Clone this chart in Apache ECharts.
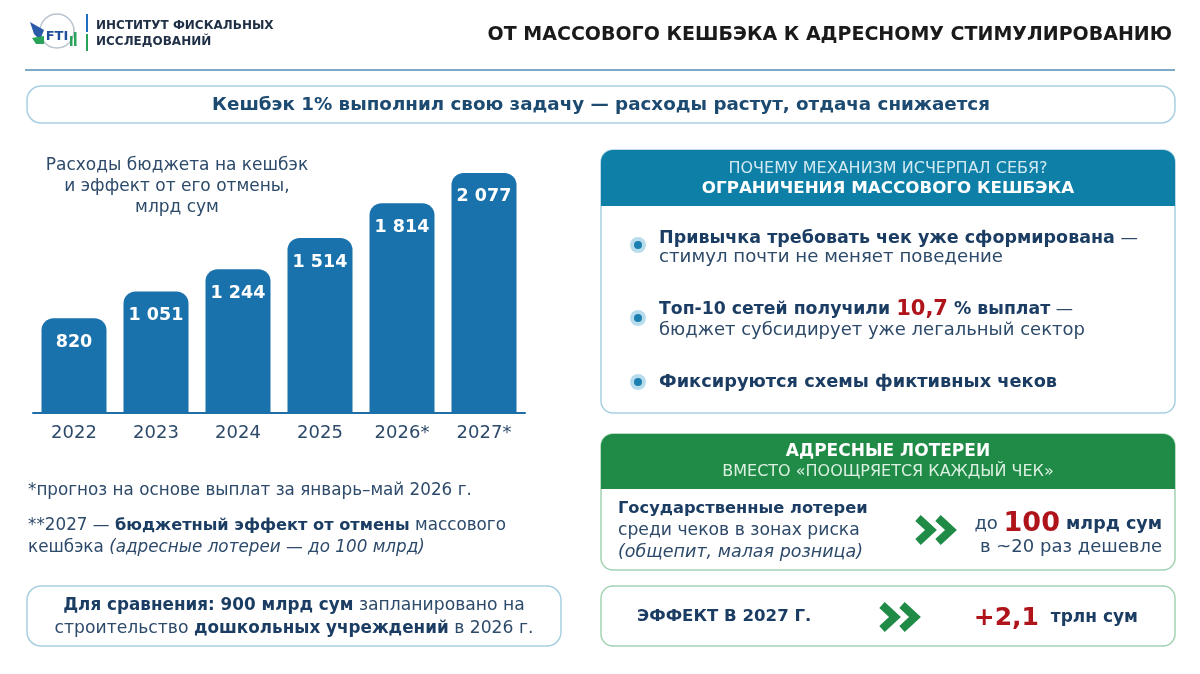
<!DOCTYPE html>
<html><head><meta charset="utf-8">
<script src="https://cdn.jsdelivr.net/npm/echarts@6/dist/echarts.min.js"></script>
<style>html,body{margin:0;padding:0;background:#fff;}#c{width:1200px;height:674px;}</style>
</head><body><div id="c"></div>
<script>
const categories = ['2022','2023','2024','2025','2026*','2027*'];
const spending = [820, 1051, 1244, 1514, 1814, 2077];
const chartTitle = 'Расходы бюджета на кешбэк\nи эффект от его отмены,\nмлрд сум';

const FF = '"DejaVu Sans", "Noto Sans", sans-serif';
const NAVY = '#1c3d63';
const TXT = '#2d4a6a';
const BLUE = '#1a72ad';
const TEAL = '#0e80a8';
const GREEN = '#1f8b46';
const RED = '#b0141b';

function fmt(v){ return String(v).replace(/\B(?=(\d{3})+(?!\d))/g, ' '); }

function T(x, y, text, o){
  o = o || {};
  return { type:'text', z:10, style:Object.assign({
    x:x, y:y, text:text, fontFamily:FF, fontSize:o.fs||16, fontWeight:o.fw||'normal',
    fill:o.fill||NAVY, align:o.align||'left', verticalAlign:'middle'
  }, o.rich ? {rich:o.rich} : {}, o.extra||{}) };
}
function R(x, y, w, h, r, o){
  return { type:'rect', z:o.z||1, shape:{x:x,y:y,width:w,height:h,r:r},
    style:{fill:o.fill||'#fff', stroke:o.stroke||null, lineWidth:o.lw||1.5} };
}
function chev(cx, cy, color){
  const mk = (dx)=>({ type:'polyline', z:10,
    shape:{points:[[cx+dx-8,cy-12],[cx+dx+5,cy],[cx+dx-8,cy+12]]},
    style:{stroke:color, lineWidth:8, fill:null, lineJoin:'miter', lineCap:'butt'} });
  return [mk(-10), mk(10)];
}
function bullet(cx, cy){
  return [
    {type:'circle', z:10, shape:{cx:cx,cy:cy,r:8}, style:{fill:'#b9dcec'}},
    {type:'circle', z:11, shape:{cx:cx,cy:cy,r:4}, style:{fill:'#1b7fb0'}}
  ];
}

const bold = (fs, fill)=>({fontFamily:FF, fontSize:fs, fontWeight:'bold', fill:fill||NAVY});
const reg = (fs, fill)=>({fontFamily:FF, fontSize:fs, fontWeight:'normal', fill:fill||TXT});
const ital = (fs, fill)=>({fontFamily:FF, fontSize:fs, fontStyle:'italic', fill:fill||TXT});

let g = [];
// logo
g.push({type:'circle', z:5, shape:{cx:57,cy:31,r:17}, style:{fill:'#fff', stroke:'#b8c4cf', lineWidth:1.5}});
g.push({type:'polygon', z:6, shape:{points:[[30,22],[44,30],[40,40],[34,34]]}, style:{fill:'#2a5aa8'}});
g.push({type:'polygon', z:6, shape:{points:[[32,38],[44,36],[44,44],[36,44]]}, style:{fill:'#2aa35a'}});
g.push(T(57, 37, 'FTI', {fs:13, fw:'bold', fill:'#1f4f9a', align:'center'}));
g.push({type:'rect', z:6, shape:{x:70,y:36,width:2.5,height:10}, style:{fill:'#2aa35a'}});
g.push({type:'rect', z:6, shape:{x:74,y:32,width:2.5,height:14}, style:{fill:'#2aa35a'}});
g.push({type:'rect', z:5, shape:{x:86,y:14,width:2,height:18}, style:{fill:'#1f6fc0'}});
g.push({type:'rect', z:5, shape:{x:86,y:34,width:2,height:17}, style:{fill:'#2aa35a'}});
g.push(T(96, 26, 'ИНСТИТУТ ФИСКАЛЬНЫХ', {fs:12, fw:'bold', fill:'#1f2f45'}));
g.push(T(96, 42, 'ИССЛЕДОВАНИЙ', {fs:12, fw:'bold', fill:'#1f2f45'}));
// main title
g.push(T(1172, 35, 'ОТ МАССОВОГО КЕШБЭКА К АДРЕСНОМУ СТИМУЛИРОВАНИЮ', {fs:19, fw:'bold', fill:'#1a1a1a', align:'right'}));
g.push({type:'line', z:2, shape:{x1:25,y1:70,x2:1175,y2:70}, style:{stroke:'#7ea9c9', lineWidth:2}});
// subtitle box
g.push(R(27, 86, 1148, 37, 14, {stroke:'#a8d0e2', lw:1.5}));
g.push(T(601, 105, 'Кешбэк 1% выполнил свою задачу — расходы растут, отдача снижается', {fs:18.3, fw:'bold', fill:'#1d4a70', align:'center'}));

// footnotes
g.push(T(28, 491, '*прогноз на основе выплат за январь–май 2026 г.', {fs:16.8, fill:TXT}));
g.push(T(28, 526, '{r|**2027 — }{b|бюджетный эффект от отмены}{r| массового}', {fs:16.5, rich:{r:reg(16.8), b:bold(16.2)}}));
g.push(T(28, 548, '{r|кешбэка }{i|(адресные лотереи — до 100 млрд)}', {fs:16.5, rich:{r:reg(16.8), i:ital(16.8)}}));
// comparison box
g.push(R(27, 586, 534, 60, 14, {stroke:'#a8d0e2', lw:1.5}));
g.push(T(294, 606, '{b|Для сравнения: 900 млрд сум}{r| запланировано на}', {fs:17, align:'center', rich:{r:reg(17.2), b:bold(16.8)}}));
g.push(T(294, 629, '{r|строительство }{b|дошкольных учреждений}{r| в 2026 г.}', {fs:17, align:'center', rich:{r:reg(17.2), b:bold(16.8)}}));

// right panel 1
g.push(R(601, 150, 574, 263, 12, {stroke:'#a8d0e2', lw:1.5}));
g.push(R(601, 150, 574, 56, [12,12,0,0], {fill:TEAL, z:2}));
g.push(T(888, 169, 'ПОЧЕМУ МЕХАНИЗМ ИСЧЕРПАЛ СЕБЯ?', {fs:16, fill:'#d2e9f3', align:'center'}));
g.push(T(888, 189, 'ОГРАНИЧЕНИЯ МАССОВОГО КЕШБЭКА', {fs:16.7, fw:'bold', fill:'#ffffff', align:'center'}));
g = g.concat(bullet(638, 245), bullet(638, 318), bullet(638, 382));
g.push(T(659, 238, '{b|Привычка требовать чек уже сформирована}{r| —}', {fs:17.5, rich:{b:bold(17.5), r:reg(17.5)}}));
g.push(T(659, 257, 'стимул почти не меняет поведение', {fs:18.2, fill:TXT}));
g.push(T(659, 310, '{b|Топ-10 сетей получили }{red|10,7}{b| % выплат}{r| —}', {fs:17.5, rich:{b:bold(17.3), r:reg(17.3), red:bold(21, RED)}}));
g.push(T(659, 330, 'бюджет субсидирует уже легальный сектор', {fs:18, fill:TXT}));
g.push(T(659, 382, 'Фиксируются схемы фиктивных чеков', {fs:17.8, fw:'bold', fill:NAVY}));

// right panel 2
g.push(R(601, 434, 574, 136, 12, {stroke:'#a3d3b2', lw:1.5}));
g.push(R(601, 434, 574, 55, [12,12,0,0], {fill:GREEN, z:2}));
g.push(T(888, 452, 'АДРЕСНЫЕ ЛОТЕРЕИ', {fs:17, fw:'bold', fill:'#ffffff', align:'center'}));
g.push(T(888, 472, 'ВМЕСТО «ПООЩРЯЕТСЯ КАЖДЫЙ ЧЕК»', {fs:16, fill:'#dcf0e2', align:'center'}));
g.push(T(618, 509, 'Государственные лотереи', {fs:16.3, fw:'bold', fill:NAVY}));
g.push(T(618, 531, 'среди чеков в зонах риска', {fs:17.2, fill:TXT}));
g.push(T(618, 552, '(общепит, малая розница)', {fs:17.5, fill:TXT, extra:{fontStyle:'italic'}}));
g = g.concat(chev(936, 530, GREEN));
g.push(T(1162, 524, '{r|до }{red|100}{b| млрд сум}', {fs:18, align:'right', rich:{r:reg(18), red:bold(27, RED), b:bold(17.5)}}));
g.push(T(1162, 547, 'в ~20 раз дешевле', {fs:18, fill:TXT, align:'right'}));

// box 3
g.push(R(601, 586, 574, 60, 12, {stroke:'#a3d3b2', lw:1.5}));
g.push(T(637, 617, 'ЭФФЕКТ В 2027 Г.', {fs:16.6, fw:'bold', fill:NAVY}));
g = g.concat(chev(900, 617, GREEN));
g.push(T(1138, 618, '{red|+2,1}{b|  трлн сум}', {fs:17, align:'right', rich:{red:bold(25, RED), b:bold(17)}}));

const chart = echarts.init(document.getElementById('c'), null, {renderer:'canvas'});
chart.setOption({
  backgroundColor:'#ffffff',
  animation:false,
  textStyle:{fontFamily:FF},
  title:{
    text: chartTitle, left:172, top:150, textAlign:'center',
    textStyle:{fontSize:17, fontWeight:'normal', color:TXT, lineHeight:21, fontFamily:FF, align:'center'}
  },
  grid:{left:33, width:492, top:124, bottom:261, containLabel:false},
  xAxis:{
    type:'category', data:categories,
    axisTick:{show:false},
    axisLine:{lineStyle:{color:'#1f6fa6', width:2}},
    axisLabel:{fontSize:18, color:TXT, margin:11, fontFamily:FF}
  },
  yAxis:{type:'value', min:0, max:2500, show:false, splitLine:{show:false}},
  series:[{
    type:'bar', data:spending, barWidth:65,
    itemStyle:{color:BLUE, borderRadius:[12,12,0,0]},
    label:{show:true, position:'insideTop', distance:15, color:'#fff', fontSize:17.5, fontWeight:'bold', fontFamily:FF,
      formatter:(p)=>fmt(p.value)}
  }],
  graphic:g
});
</script></body></html>
